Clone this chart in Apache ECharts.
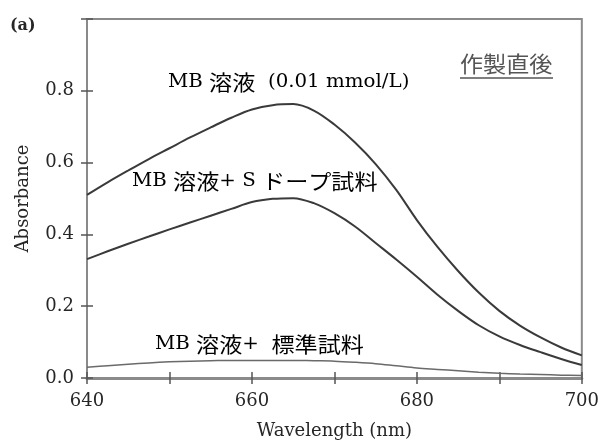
<!DOCTYPE html>
<html>
<head>
<meta charset="utf-8">
<script src="https://cdn.jsdelivr.net/npm/echarts@6/dist/echarts.min.js"></script>
<style>
  html, body { margin: 0; padding: 0; background: #fff; }
  #chart { width: 602px; height: 445px; }
</style>
</head>
<body>
<div id="chart"></div>
<script>
// Wavelength (nm) sampling points
const wavelength = [640, 642.5, 645, 647.5, 650, 652.5, 655, 657.5, 660, 662.5, 665, 667.5, 670,
                    672.5, 675, 677.5, 680, 682.5, 685, 687.5, 690, 692.5, 695, 697.5, 700];

// Absorbance of the plain MB solution (0.01 mmol/L)
const mbSolution = [0.510, 0.545, 0.578, 0.610, 0.640, 0.670, 0.698, 0.725, 0.748, 0.760, 0.763, 0.745, 0.706,
                    0.656, 0.596, 0.524, 0.440, 0.365, 0.298, 0.238, 0.187, 0.146, 0.113, 0.085, 0.063];

// MB solution + S-doped sample
const mbSDoped = [0.331, 0.353, 0.374, 0.394, 0.414, 0.433, 0.452, 0.471, 0.490, 0.499, 0.501, 0.487, 0.459,
                  0.422, 0.376, 0.330, 0.282, 0.232, 0.187, 0.147, 0.116, 0.092, 0.072, 0.053, 0.036];

// MB solution + reference sample
const mbStandard = [0.030, 0.034, 0.038, 0.042, 0.045, 0.047, 0.048, 0.049, 0.049, 0.049, 0.049, 0.048, 0.047,
                    0.044, 0.040, 0.034, 0.028, 0.024, 0.020, 0.016, 0.013, 0.011, 0.010, 0.008, 0.007];

const xTicks = [640, 660, 680, 700];
const yTicks = [0.0, 0.2, 0.4, 0.6, 0.8];

const serif = '"DejaVu Serif", "Liberation Serif", serif';
const jp = '"Noto Sans CJK JP", sans-serif';
const ink = '#262626';
const frame = '#8a8a8a';

const pairs = ys => wavelength.map((x, i) => [x, ys[i]]);

const chart = echarts.init(document.getElementById('chart'), null, { renderer: 'canvas' });

const gridBox = { left: 87, right: 20, top: 19, bottom: 65 };

const baseX = {
  type: 'value', min: 640, max: 700, interval: 10, gridIndex: 0,
  splitLine: { show: false }
};
const baseY = {
  type: 'value', min: 0, max: 1.0, interval: 0.2, gridIndex: 0,
  splitLine: { show: false }
};

const curve = (name, data) => ({
  name, type: 'line', data: pairs(data), showSymbol: false, smooth: 0.35,
  lineStyle: { color: '#3a3a3a', width: 2 }, z: 3
});

const rt = {
  a: { fontFamily: serif, fontSize: 18, color: ink },
  j: { fontFamily: jp, fontSize: 21, color: '#555' }
};

// curve captions, slightly widened
const caption = (text, left, top) => ({
  type: 'text', left, top, scaleX: 1.1, originX: 0,
  style: { text, rich: rt }
});

chart.setOption({
  animation: false,
  backgroundColor: '#fff',
  grid: Object.assign({ show: true, borderColor: frame, borderWidth: 2, backgroundColor: 'transparent' }, gridBox),
  xAxis: [
    Object.assign({}, baseX, {
      position: 'bottom',
      name: 'Wavelength (nm)', nameLocation: 'middle', nameGap: 44,
      nameTextStyle: { fontFamily: serif, fontSize: 18, color: ink },
      axisLine: { show: true, onZero: false, lineStyle: { color: frame, width: 3 } },
      axisTick: { show: true, inside: false, length: 6, lineStyle: { color: '#555', width: 1.5 } },
      axisLabel: {
        fontFamily: serif, fontSize: 18, color: ink, margin: 14,
        formatter: v => (xTicks.indexOf(v) >= 0 ? String(v) : '')
      }
    }),
    Object.assign({}, baseX, {
      position: 'bottom',
      axisLine: { show: false },
      axisTick: { show: true, inside: true, length: 6, lineStyle: { color: '#555', width: 1.5 } },
      axisLabel: { show: false }
    })
  ],
  yAxis: [
    Object.assign({}, baseY, {
      position: 'left',
      name: 'Absorbance', nameLocation: 'middle', nameGap: 55, nameRotate: 90,
      nameTextStyle: { fontFamily: serif, fontSize: 18, color: ink },
      axisLine: { show: true, onZero: false, lineStyle: { color: frame, width: 2 } },
      axisTick: { show: true, inside: false, length: 6, lineStyle: { color: '#555', width: 1.5 } },
      axisLabel: {
        fontFamily: serif, fontSize: 18, color: ink, margin: 13,
        formatter: v => {
          const hit = yTicks.find(t => Math.abs(t - v) < 1e-6);
          return hit === undefined ? '' : hit.toFixed(1);
        }
      }
    }),
    Object.assign({}, baseY, {
      position: 'left',
      axisLine: { show: false },
      axisTick: { show: true, inside: true, length: 6, lineStyle: { color: '#555', width: 1.5 } },
      axisLabel: { show: false }
    })
  ],
  series: [
    curve('MB 溶液 (0.01 mmol/L)', mbSolution),
    curve('MB 溶液+ S ドープ試料', mbSDoped),
    Object.assign(curve('MB 溶液+ 標準試料', mbStandard), { lineStyle: { color: '#6a6a6a', width: 1.5 } })
  ],
  graphic: [
    {
      type: 'text', left: 10, top: 18,
      style: { text: '(a)', fontFamily: serif, fontSize: 16, fontWeight: 'bold', fill: ink }
    },
    caption('{a|MB }{j|溶液}{a|  (0.01 mmol/L)}', 168, 72),
    caption('{a|MB }{j|溶液}{a|+ S }{j|ドープ試料}', 132, 171),
    caption('{a|MB }{j|溶液}{a|+  }{j|標準試料}', 155, 334),
    {
      type: 'text', left: 460, top: 53, scaleX: 1.05, originX: 0,
      style: { text: '作製直後', fontFamily: jp, fontSize: 22, fill: '#555' }
    },
    {
      type: 'line', shape: { x1: 460, y1: 78, x2: 553, y2: 78 },
      style: { stroke: '#555', lineWidth: 1.5 }
    }
  ]
});
</script>
</body>
</html>
